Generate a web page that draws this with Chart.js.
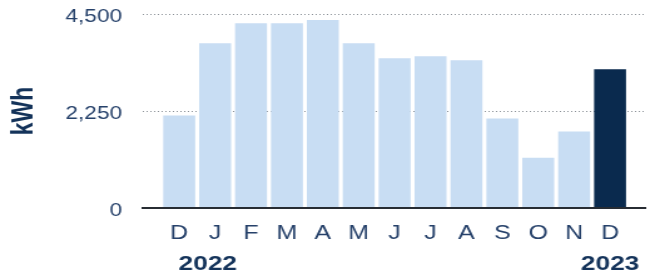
<!DOCTYPE html>
<html>
<head>
<meta charset="utf-8">
<script src="https://cdn.jsdelivr.net/npm/chart.js@4/dist/chart.umd.min.js"></script>
<style>
  html, body { margin: 0; padding: 0; background: #fff; overflow: hidden; }
  #wrap { position: absolute; left: 0; top: 0; width: 528.8px; height: 280px; transform: scaleX(1.25); transform-origin: 0 0; }
</style>
</head>
<body>
<div id="wrap"><canvas id="c"></canvas></div>
<script>
// ---- data ----
const months = ['D', 'J', 'F', 'M', 'A', 'M', 'J', 'J', 'A', 'S', 'O', 'N', 'D'];
const kwh = [2145, 3824, 4285, 4285, 4360, 3824, 3474, 3521, 3427, 2075, 1166, 1772, 3218];
const yTicks = [0, 2250, 4500];
const years = ['2022', '2023'];
const yTitle = 'kWh';

const LIGHT = '#c8ddf3';
const DARK = '#0a2a4e';
const TEXT = '#26416a';
const TEXT_BOLD = '#14335a';
const FONT = '"Liberation Sans", Arial, Helvetica, sans-serif';

// one empty slot on each side so the bars sit inside the wider grid
const labels = [''].concat(months, ['']);
const values = [null].concat(kwh, [null]);
const colors = values.map((v, i) => i === months.length ? DARK : LIGHT);

const yearPlugin = {
  id: 'years',
  afterDraw(chart) {
    const xs = chart.scales.x;
    const ctx = chart.ctx;
    ctx.save();
    ctx.font = 'bold 21px ' + FONT;
    ctx.fillStyle = TEXT_BOLD;
    ctx.textBaseline = 'middle';
    ctx.textAlign = 'left';
    ctx.fillText(years[0], xs.getPixelForValue(1) - 0.5, 264);
    ctx.textAlign = 'center';
    ctx.fillText(years[1], xs.getPixelForValue(months.length), 264);
    ctx.restore();
  }
};

new Chart(document.getElementById('c'), {
  type: 'bar',
  data: {
    labels: labels,
    datasets: [{
      data: values,
      backgroundColor: colors,
      borderWidth: 0,
      barPercentage: 0.89,
      categoryPercentage: 1.0
    }]
  },
  options: {
    responsive: true,
    maintainAspectRatio: false,
    animation: false,
    events: [],
    layout: { padding: { top: 14, right: 0, bottom: 22, left: 0 } },
    plugins: { legend: { display: false }, tooltip: { enabled: false } },
    scales: {
      x: {
        offset: false,
        grid: { display: false, drawTicks: false },
        border: { display: true, color: '#272c33', width: 2, z: 1 },
        ticks: {
          color: TEXT,
          font: { family: FONT, size: 20 },
          padding: 13,
          autoSkip: false,
          maxRotation: 0
        }
      },
      y: {
        min: 0,
        max: 4500,
        afterBuildTicks(scale) { scale.ticks = yTicks.map(v => ({ value: v })); },
        afterFit(scale) { scale.width = 114.4; scale.paddingTop = 0; scale.paddingBottom = 0; },
        grid: { color: '#8b9097', lineWidth: 1, drawTicks: false },
        border: { display: false, dash: [1, 2] },
        ticks: {
          color: TEXT,
          font: { family: FONT, size: 18 },
          padding: 17,
          labelOffset: 3,
          callback: v => v.toLocaleString('en-US')
        },
        title: {
          display: true,
          text: yTitle,
          color: TEXT_BOLD,
          font: { family: FONT, size: 23, weight: 'bold' },
          padding: { top: 6, bottom: 0 }
        }
      }
    }
  },
  plugins: [yearPlugin]
});
</script>
</body>
</html>
